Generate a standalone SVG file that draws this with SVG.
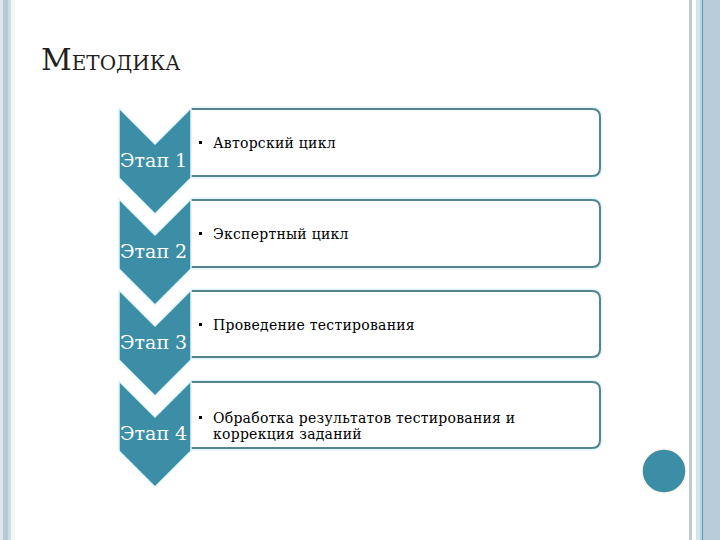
<svg xmlns="http://www.w3.org/2000/svg" width="720" height="540" viewBox="0 0 720 540">
<style>
.chev{fill:#3b8ea5;stroke:#e4f6fa;stroke-width:1.5}
.box{fill:#ffffff;stroke:#55838e;stroke-width:2}
.glow{fill:none;stroke:#e3f6f9;stroke-width:5}
.stage{font-family:"DejaVu Serif","Liberation Serif",serif;font-size:19px;fill:#ffffff}
.item{font-family:"DejaVu Serif","Liberation Serif",serif;font-size:14px;letter-spacing:0.25px;fill:#000000}
.bullet{fill:#000000}
.title{font-family:"DejaVu Serif","Liberation Serif",serif;fill:#231f20}
</style>
<rect x="0" y="0" width="720" height="540" fill="#ffffff"/>
<g id="frame">
<rect x="0" y="0" width="3" height="540" fill="#dde7ec"/>
<rect x="3" y="0" width="5" height="540" fill="#b6cad6"/>
<rect x="8" y="0" width="3" height="540" fill="#cfdbe2"/>
<rect x="11" y="0" width="3" height="540" fill="#eef9fb"/>
<rect x="14" y="0" width="1" height="540" fill="#fbf3df"/>
<rect x="689" y="0" width="3" height="540" fill="#c2cad1"/>
<rect x="696" y="0" width="4" height="540" fill="#d3e6ec"/>
<rect x="700" y="0" width="2" height="540" fill="#bcd3dd"/>
<rect x="702" y="0" width="1.5" height="540" fill="#5d9cbd"/>
<rect x="703.5" y="0" width="16.5" height="540" fill="#b8cdd9"/>
</g>
<g id="title">
<text class="title" x="41" y="70"><tspan font-size="30">М</tspan><tspan font-size="20">ЕТОДИКА</tspan></text>
</g>
<g id="connectors"></g>
<g id="box1">
<path class="glow" d="M191,109 H592 Q600,109 600,117 V168 Q600,176 592,176 H191"/>
<path class="box" d="M191,109 H592 Q600,109 600,117 V168 Q600,176 592,176 H191"/>
<rect class="bullet" x="199" y="141" width="3" height="3"/>
<text class="item" x="213" y="148">Авторский цикл</text>
</g>
<g id="box2">
<path class="glow" d="M191,200 H592 Q600,200 600,208 V259 Q600,267 592,267 H191"/>
<path class="box" d="M191,200 H592 Q600,200 600,208 V259 Q600,267 592,267 H191"/>
<rect class="bullet" x="199" y="232" width="3" height="3"/>
<text class="item" x="213" y="239">Экспертный цикл</text>
</g>
<g id="box3">
<path class="glow" d="M191,291 H592 Q600,291 600,299 V349 Q600,357 592,357 H191"/>
<path class="box" d="M191,291 H592 Q600,291 600,299 V349 Q600,357 592,357 H191"/>
<rect class="bullet" x="199" y="323" width="3" height="3"/>
<text class="item" x="213" y="330">Проведение тестирования</text>
</g>
<g id="box4">
<path class="glow" d="M191,382 H592 Q600,382 600,390 V440 Q600,448 592,448 H191"/>
<path class="box" d="M191,382 H592 Q600,382 600,390 V440 Q600,448 592,448 H191"/>
<rect class="bullet" x="199" y="416" width="3" height="3"/>
<text class="item" x="213" y="423">Обработка результатов тестирования и</text>
<text class="item" x="213" y="439">коррекция заданий</text>
</g>
<g id="stage1">
<path class="chev" d="M119,108 L155,144 L191,108 L191,178 L155,214 L119,178 Z"/>
<text class="stage" x="120" y="167">Этап 1</text>
</g>
<g id="stage2">
<path class="chev" d="M119,199 L155,235 L191,199 L191,269 L155,305 L119,269 Z"/>
<text class="stage" x="120" y="258">Этап 2</text>
</g>
<g id="stage3">
<path class="chev" d="M119,290 L155,326 L191,290 L191,360 L155,396 L119,360 Z"/>
<text class="stage" x="120" y="349">Этап 3</text>
</g>
<g id="stage4">
<path class="chev" d="M119,381 L155,417 L191,381 L191,451 L155,487 L119,451 Z"/>
<text class="stage" x="120" y="440">Этап 4</text>
</g>
<g id="dot">
<circle cx="664" cy="471" r="22" fill="#3b8ea5" stroke="#fdf3e6" stroke-width="1.5"/>
</g>
</svg>
